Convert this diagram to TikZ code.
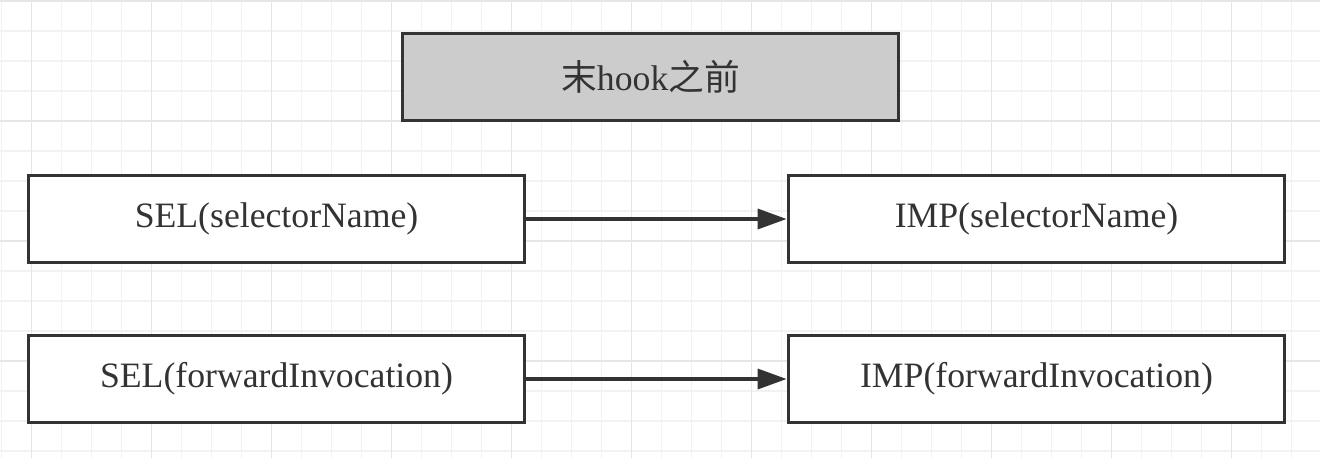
\documentclass[tikz,border=0pt]{standalone}
\usepackage{fontspec}
\setmainfont{Liberation Serif}
\newfontfamily\cjk{Noto Sans CJK SC}
\usetikzlibrary{arrows.meta}
\definecolor{gridminor}{HTML}{F2F2F2}
\definecolor{gridmajor}{HTML}{E6E6E6}
\definecolor{edge}{HTML}{333333}
\definecolor{graybox}{HTML}{CCCCCC}
\tikzset{
  box/.style={draw=edge, line width=3.8pt, rectangle, minimum width=496pt, minimum height=87pt,
    inner sep=0pt, text=edge, font=\fontsize{35.7}{40}\selectfont},
  conn/.style={draw=edge, line width=3.5pt, -{Triangle[length=29pt,width=20pt]}}
}
\begin{document}
\begin{tikzpicture}[x=1pt,y=-1pt]
\useasboundingbox (0,0) rectangle (1320,458);
\fill[white] (0,0) rectangle (1320,458);
% grid
\foreach \i in {0,...,44} {
  \pgfmathsetmacro\gx{1.5+30*\i}
  \draw[gridminor, line width=1.6pt] (\gx,0) -- (\gx,458);
}
\foreach \j in {0,...,15} {
  \pgfmathsetmacro\gy{1+30*\j}
  \draw[gridminor, line width=1.6pt] (0,\gy) -- (1320,\gy);
}
\foreach \i in {0,...,10} {
  \pgfmathsetmacro\gx{31.5+120*\i}
  \draw[gridmajor, line width=1.6pt] (\gx,0) -- (\gx,458);
}
\foreach \j in {0,...,3} {
  \pgfmathsetmacro\gy{1+120*\j}
  \draw[gridmajor, line width=1.6pt] (0,\gy) -- (1320,\gy);
}
% nodes
\node[box, fill=graybox] (title) at (650.5,77) {{\cjk 末}hook{\cjk 之前}};
\node[box, fill=white] (sel1) at (276.5,219) {SEL(selectorName)};
\node[box, fill=white] (imp1) at (1036.5,219) {IMP(selectorName)};
\node[box, fill=white] (sel2) at (276.5,379) {SEL(forwardInvocation)};
\node[box, fill=white] (imp2) at (1036.5,379) {IMP(forwardInvocation)};
% connectors
\draw[conn] (sel1.east) -- (imp1.west);
\draw[conn] (sel2.east) -- (imp2.west);
\end{tikzpicture}
\end{document}
